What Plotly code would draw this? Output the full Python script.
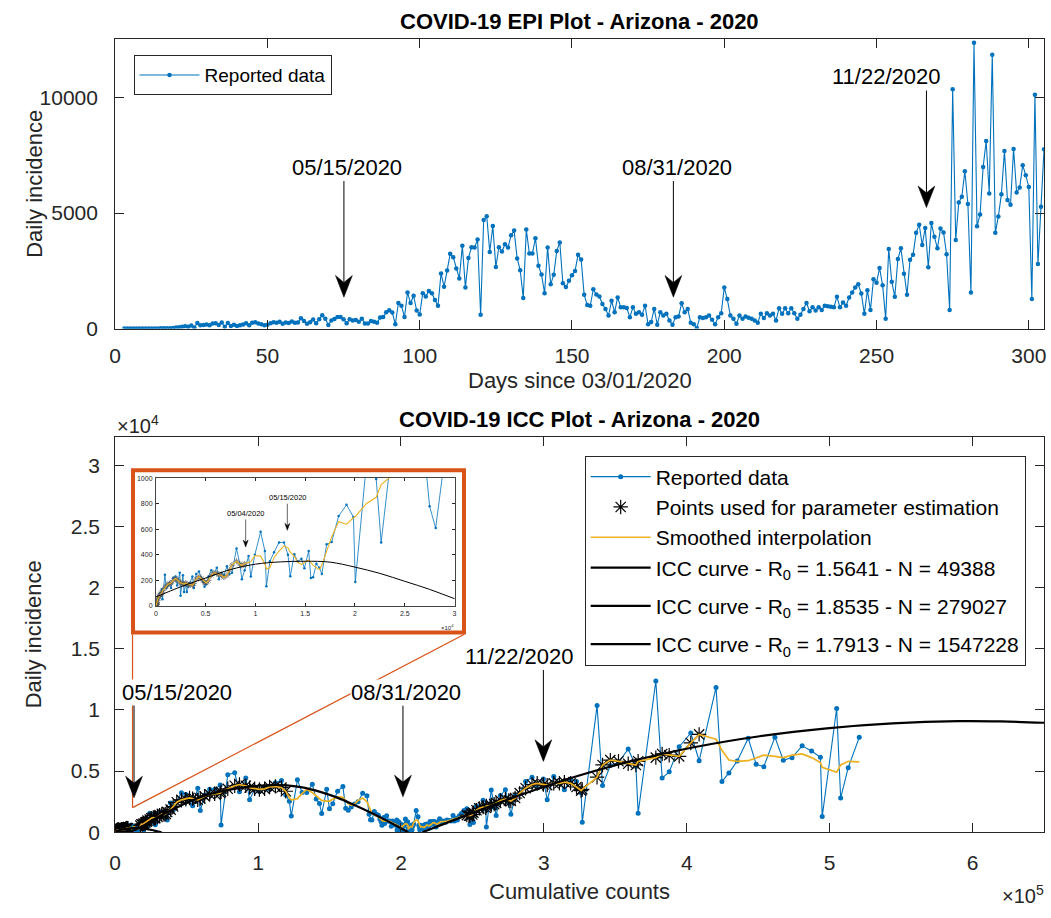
import numpy as np
import plotly.graph_objects as go

W, H = 1051, 918
FONT = "Liberation Sans, Arial, sans-serif"
AX = "#262626"
BLUE = "#0072BD"
ORANGE = "#D95319"
YELLOW = "#EDB120"

# ---------------- data ----------------
first_day = 3
daily_cases = [
    0, 1, 0, 1, 2, 1, 2, 3, 4, 5, 6, 8, 10, 13, 15, 20, 25,
    50, 60, 80, 100, 77, 130, 52, 245, 140, 160, 180,
    140, 220, 230, 160, 260, 80, 240, 110, 170, 110,
    150, 180, 230, 140, 250, 270, 220, 190, 150, 170,
    230, 280, 250, 300, 210, 260, 240, 310, 250, 260,
    450, 330, 210, 280,
    390, 230, 400, 580, 430, 155, 350, 420, 497, 497, 400,
    232, 405, 348, 369, 296, 430, 219, 224, 330, 300, 250, 482,
    500, 703, 791, 696, 188,
    1106, 993, 497, 1560, 1106, 1418, 780, 610,
    1532, 1390, 1630, 1532, 1234, 993, 2383, 1815, 2510, 3234,
    3092, 2595, 2170, 3588, 1773, 3050, 3518, 3505, 3858, 596,
    4694, 4864, 3319, 4439, 2666, 3518, 3333, 3645, 3505, 4042,
    4240, 3035, 2525, 1319, 4283, 3248, 3248, 3914, 2723, 2340,
    1532, 3505, 1915, 2326, 3361, 3730, 1957, 1801, 2070, 2311,
    2496, 3191, 2992, 1461, 1021, 993, 1702, 1475, 1390,
    1064, 851, 567, 1205, 709, 1347, 922, 922, 893, 496,
    922, 638, 709, 596, 993, 184, 284, 851, 170, 709, 567, 638, 355, 170,
    496, 525, 1092, 709, 851, 255, 184, 28, 496, 454, 496, 567, 383, 184, 496, 666,
    1773, 1276, 567, 425, 213, 567, 425, 525, 468, 425, 355, 255, 638, 454, 666, 567, 638, 355,
    879, 638, 879, 666, 879, 666, 425, 596, 851, 1106, 752, 922, 780, 922, 808, 993, 964, 950, 922, 1375, 922, 1134, 993,
    1347, 1560, 1773, 1914, 1520, 638, 1660, 800, 2140, 1985, 2623,
    1872, 426, 3447, 2028, 1376, 3007, 3475, 2369, 1461, 2979, 3191, 4142, 4496, 3617, 4354,
    2652, 4567, 3972, 3475, 4326, 4156, 3220, 808, 10354,
    3830, 5460, 5702, 6808, 5390, 1560, 12368, 4425, 4936, 6992,
    8113, 5844, 11843, 4142, 4851, 5815, 7688, 5560, 5361, 7773,
    5886, 6099, 7063, 6638, 6127, 1277, 10113, 2794, 5276, 7759,
]

smoothed_cases = [
    0, 0, 1, 1, 1, 2, 2, 3, 4, 5, 6, 8, 10, 12, 15, 20, 28,
    45, 60, 75, 85, 95, 100, 120, 140, 155, 170, 175,
    180, 200, 215, 205, 190, 180, 175, 170, 180, 170,
    165, 170, 160, 175, 210, 230, 215, 200, 185, 180,
    200, 240, 260, 255, 245, 240, 225, 240, 280, 320,
    350, 330, 315, 330,
    340, 345, 395, 390, 330, 290, 300, 380, 430, 470, 455,
    420, 390, 340, 325, 340, 360, 340, 320, 300, 285, 320, 430,
    540, 660, 640, 690, 700,
    800, 850, 950, 1050, 1150, 1200, 1150, 1150,
    1250, 1400, 1500, 1450, 1500, 1650, 1850, 2100, 2450, 2650,
    2700, 2800, 2750, 2650, 2750, 2950, 3100, 3150, 3200, 3300,
    3550, 3800, 3900, 3800, 3650, 3550, 3500, 3550, 3700, 3750,
    3650, 3350, 2800, 2650, 2750, 3150, 3500, 3250, 2950, 2750,
    2600, 2550, 2550, 2700, 2900, 2850, 2600, 2350, 2200, 2300,
    2600, 2800, 2500, 2100, 1800, 1550, 1400, 1350, 1250,
    1150, 1050, 950, 900, 900, 950, 950, 900, 850, 800,
    750, 700, 700, 650, 600, 550, 500, 480, 470, 480, 500, 480, 450, 430,
    520, 600, 700, 680, 620, 500, 380, 300, 330, 420, 480, 460, 420, 420, 550, 800,
    1000, 950, 750, 580, 450, 420, 450, 480, 450, 400, 380, 400, 450, 520, 580, 580, 550, 520,
    560, 640, 720, 780, 770, 720, 650, 640, 720, 820, 860, 860, 860, 870, 880, 910, 940, 960, 1000, 1060, 1100, 1150, 1200,
    1250, 1300, 1350, 1400, 1350, 1350, 1450, 1600, 1800, 1950, 2050,
    2000, 2150, 2200, 2300, 2400, 2600, 2700, 2600, 2550, 2800, 3200, 3600, 3900, 4000, 3900,
    3850, 4000, 4000, 4100, 4000, 3700, 3400, 3500, 4500,
    5500, 5900, 5800, 5600, 5500, 5800, 6100, 6400, 6300, 6200,
    7300, 8000, 7600, 6700, 5900, 5800, 5850, 6100, 6300, 6200,
    6100, 6300, 6400, 6100, 5700, 5300, 4900, 5500, 5800, 5750,
]

n = min(len(daily_cases), len(smoothed_cases))
daily_cases = daily_cases[:n]
smoothed_cases = smoothed_cases[:n]
days = list(range(first_day, first_day + n))
cumulative_counts = np.cumsum(daily_cases)

# estimation windows (day numbers)
estimation_windows = [(3, 64), (88, 132), (244, 287)]

# ICC curves
icc1_x = [0, 2500, 5000, 7500, 10000, 12500, 15000, 17500, 20000, 22500, 25000, 27500, 30000, 32500]
icc1_y = [70, 150, 219, 285, 327, 345, 350, 343, 304, 255, 193, 130, 57, -10]
icc2_x = [10000, 20000, 30000, 43000, 55000, 66000, 77000, 89000, 100000, 110000, 120000, 132000, 143500, 155000, 167000, 178000, 190000, 198000, 205000]
icc2_y = [0, 550, 1250, 2030, 2650, 3110, 3420, 3650, 3800, 3860, 3830, 3650, 3300, 2850, 2250, 1650, 950, 450, 0]
icc3_x = [215000, 236000, 259000, 282000, 306000, 330000, 359000, 405000, 451000, 498000, 544000, 590000, 620000, 650000]
icc3_y = [0, 950, 1980, 2980, 3950, 4820, 5750, 6950, 7850, 8500, 8900, 9080, 9060, 8950]

icc_labels = [
    "ICC curve - R<sub>0</sub> = 1.5641 - N = 49388",
    "ICC curve - R<sub>0</sub> = 1.8535 - N = 279027",
    "ICC curve - R<sub>0</sub> = 1.7913 - N = 1547228",
]

top_xticks = [0, 50, 100, 150, 200, 250, 300]
top_yticks = [0, 5000, 10000]
top_yticklabels = ["0", "5000", "10000"]
bot_xticks = [0, 100000, 200000, 300000, 400000, 500000, 600000]
bot_xticklabels = ["0", "1", "2", "3", "4", "5", "6"]
bot_yticks = [0, 5000, 10000, 15000, 20000, 25000, 30000]
bot_yticklabels = ["0", "0.5", "1", "1.5", "2", "2.5", "3"]
ins_xticks = [0, 5000, 10000, 15000, 20000, 25000, 30000]
ins_xticklabels = ["0", "0.5", "1", "1.5", "2", "2.5", "3"]
ins_yticks = [0, 200, 400, 600, 800, 1000]

# ---------------- helpers ----------------
def px(x):
    return x / W


def py(y):
    return 1 - y / H


est_idx = [i for i, d in enumerate(days) if any(a <= d <= b for a, b in estimation_windows)]
w1_idx = [i for i, d in enumerate(days) if estimation_windows[0][0] <= d <= estimation_windows[0][1]]

fig = go.Figure()

# ---- top EPI plot ----
fig.add_trace(go.Scatter(
    x=days, y=daily_cases, mode="lines+markers", name="Reported data",
    line=dict(color=BLUE, width=1.1), marker=dict(color=BLUE, size=4.5),
    xaxis="x", yaxis="y", legend="legend",
))

# ---- bottom ICC plot ----
fig.add_trace(go.Scatter(
    x=cumulative_counts, y=daily_cases, mode="lines+markers", name="Reported data",
    line=dict(color=BLUE, width=1.1), marker=dict(color=BLUE, size=5),
    xaxis="x2", yaxis="y2", legend="legend2", legendgroup="g1",
))
fig.add_trace(go.Scatter(
    x=[cumulative_counts[i] for i in est_idx], y=[smoothed_cases[i] for i in est_idx],
    mode="markers", name="Points used for parameter estimation",
    marker=dict(symbol="asterisk-open", size=12, color="black", line=dict(color="black", width=1.2)),
    xaxis="x2", yaxis="y2", legend="legend2", legendgroup="g1",
))
fig.add_trace(go.Scatter(
    x=cumulative_counts, y=smoothed_cases, mode="lines", name="Smoothed interpolation",
    line=dict(color=YELLOW, width=1.7),
    xaxis="x2", yaxis="y2", legend="legend2", legendgroup="g1",
))
for cx, cy, lab, grp in [(icc1_x, icc1_y, icc_labels[0], "g1"), (icc2_x, icc2_y, icc_labels[1], "g2"),
                         (icc3_x, icc3_y, icc_labels[2], "g3")]:
    fig.add_trace(go.Scatter(
        x=cx, y=cy, mode="lines", name=lab, line=dict(color="black", width=2.2, shape="spline"),
        xaxis="x2", yaxis="y2", legend="legend2", legendgroup=grp,
    ))

# ---- inset ----
fig.add_trace(go.Scatter(
    x=cumulative_counts, y=daily_cases, mode="lines+markers", showlegend=False,
    line=dict(color=BLUE, width=0.8), marker=dict(color=BLUE, size=2.5),
    xaxis="x3", yaxis="y3",
))
fig.add_trace(go.Scatter(
    x=[cumulative_counts[i] for i in w1_idx], y=[smoothed_cases[i] for i in w1_idx],
    mode="markers", showlegend=False,
    marker=dict(symbol="asterisk-open", size=5, color="#555555", line=dict(color="#555555", width=0.7)),
    xaxis="x3", yaxis="y3",
))
fig.add_trace(go.Scatter(
    x=cumulative_counts, y=smoothed_cases, mode="lines", showlegend=False,
    line=dict(color=YELLOW, width=1.1), xaxis="x3", yaxis="y3",
))
fig.add_trace(go.Scatter(
    x=icc1_x, y=icc1_y, mode="lines", showlegend=False,
    line=dict(color="black", width=1, shape="spline"), xaxis="x3", yaxis="y3",
))

# ---------------- axes ----------------
def axis(**kw):
    base = dict(showline=True, linecolor=AX, linewidth=1, mirror="ticks", ticks="inside",
                ticklen=9, tickwidth=1, tickcolor=AX, showgrid=False, zeroline=False,
                tickfont=dict(family=FONT, size=21, color=AX))
    base.update(kw)
    return base

xdom = [px(110), px(1046)]
layout_axes = dict(
    xaxis=axis(domain=xdom, range=[0, 305], anchor="y", tickvals=top_xticks, ticklabelstandoff=8),
    yaxis=axis(domain=[py(330), py(36)], range=[0, 12510], anchor="x", tickvals=top_yticks,
               ticktext=top_yticklabels, ticklabelstandoff=12),
    xaxis2=axis(domain=xdom, range=[0, 650000], anchor="y2", tickvals=bot_xticks,
                ticktext=bot_xticklabels, ticklabelstandoff=12),
    yaxis2=axis(domain=[py(842), py(440)], range=[0, 32330], anchor="x2", tickvals=bot_yticks,
                ticktext=bot_yticklabels, ticklabelstandoff=10),
    xaxis3=axis(domain=[px(151), px(452)], range=[0, 30000], anchor="y3", tickvals=ins_xticks,
                ticktext=ins_xticklabels, ticklen=3, linewidth=0.8, linecolor="#444",
                tickfont=dict(family=FONT, size=7, color=AX), ticklabelstandoff=1),
    yaxis3=axis(domain=[py(612), py(482)], range=[0, 1000], anchor="x3", tickvals=ins_yticks,
                ticklen=3, linewidth=0.8, linecolor="#444",
                tickfont=dict(family=FONT, size=7, color=AX), ticklabelstandoff=1),
)

# ---------------- annotations & shapes ----------------
annotations = []
shapes = []


def text(x, y, s, size, color="black", bold=False, xanchor="center", angle=0, bg=None):
    d = dict(x=px(x), y=py(y), xref="paper", yref="paper", text=("<b>%s</b>" % s) if bold else s,
             showarrow=False, xanchor=xanchor, yanchor="middle", textangle=angle,
             font=dict(family=FONT, size=size, color=color), borderpad=0)
    if bg:
        d["bgcolor"] = bg
    annotations.append(d)


def arrow(x, y0, ytip, L, Wd, notch, lw=1.0):
    shapes.append(dict(type="line", xref="paper", yref="paper", x0=px(x), x1=px(x),
                       y0=py(y0), y1=py(ytip - L + notch), line=dict(color="black", width=lw), layer="above"))
    path = "M%f,%f L%f,%f L%f,%f L%f,%f Z" % (
        px(x), py(ytip), px(x - Wd / 2), py(ytip - L), px(x), py(ytip - L + notch), px(x + Wd / 2), py(ytip - L))
    shapes.append(dict(type="path", xref="paper", yref="paper", path=path, fillcolor="black",
                       line=dict(color="black", width=0.5), layer="above"))

# titles and labels
text(578, 18, "COVID-19 EPI Plot - Arizona - 2020", 22, color="black", bold=True)
text(28, 183, "Daily incidence", 22, color=AX, angle=-90)
text(578, 383, "Days since 03/01/2020", 22, color=AX)
text(578, 422, "COVID-19 ICC Plot - Arizona - 2020", 22, color="black", bold=True)
text(28, 641, "Daily incidence", 22, color=AX, angle=-90)
text(578, 902, "Cumulative counts", 22, color=AX)
text(111, 427, "×10<sup>4</sup>", 20, color=AX, xanchor="left")
text(1047, 905, "×10<sup>5</sup>", 20, color=AX, xanchor="right")
text(452, 633, "×10<sup>4</sup>", 6, color=AX, xanchor="right")

# orange zoom frame and connectors
shapes.append(dict(type="rect", xref="paper", yref="paper", x0=px(128), x1=px(461.5), y0=py(639), y1=py(474),
                   line=dict(color=ORANGE, width=4), fillcolor="rgba(0,0,0,0)", layer="above"))
shapes.append(dict(type="line", xref="paper", yref="paper", x0=px(127.5), x1=px(127.5), y0=py(641), y1=py(817),
                   line=dict(color=ORANGE, width=1.2), layer="above"))
shapes.append(dict(type="line", xref="paper", yref="paper", x0=px(127.5), x1=px(461.5), y0=py(817), y1=py(641),
                   line=dict(color=ORANGE, width=1.2), layer="above"))

# date arrows - top plot
text(344, 166, "05/15/2020", 22)
arrow(340.5, 180, 298, 22, 17, 7)
text(676, 166, "08/31/2020", 22)
arrow(672.5, 180, 298, 22, 17, 7)
text(887, 74, "11/22/2020", 22)
arrow(927.5, 88, 207, 22, 17, 7)

# date arrows - bottom plot
text(172, 700, "05/15/2020", 22, bg="white")
arrow(129, 712, 807, 22, 17, 7)
text(403, 700, "08/31/2020", 22, bg="white")
arrow(400, 713, 806, 22, 17, 7)
text(517, 663, "11/22/2020", 22, bg="white")
arrow(541.5, 677, 770, 22, 17, 7)

# inset arrows
text(241.5, 518, "05/04/2020", 7.5)
arrow(241.5, 524, 552, 7, 5, 2.3, 0.6)
text(284, 502, "05/15/2020", 7.5)
arrow(283.5, 508, 535, 7, 5, 2.3, 0.6)

fig.update_layout(
    width=W, height=H, autosize=False,
    margin=dict(l=0, r=0, t=0, b=0, pad=0),
    paper_bgcolor="white", plot_bgcolor="white",
    font=dict(family=FONT, color=AX),
    showlegend=True,
    legend=dict(x=px(128.5), y=py(52), xanchor="left", yanchor="top", bgcolor="white",
                bordercolor=AX, borderwidth=1, font=dict(family=FONT, size=19, color="black"),
                itemwidth=60, tracegroupgap=0),
    legend2=dict(x=px(1027.5), y=py(459), xanchor="right", yanchor="top", bgcolor="white",
                 bordercolor=AX, borderwidth=1, font=dict(family=FONT, size=21, color="black"),
                 itemwidth=60, tracegroupgap=8),
    annotations=annotations, shapes=shapes,
    **layout_axes,
)

page_fix = (
    "document.documentElement.style.margin='0px';"
    "document.body.style.margin='0px';"
    "document.documentElement.style.overflow='hidden';"
    "document.body.style.overflow='hidden';"
    "var gd=document.getElementById('{plot_id}');"
    "gd.style.position='absolute';gd.style.left='0px';gd.style.top='0px';"
)
fig.write_html("out.html", config={"displayModeBar": False}, post_script=page_fix)
